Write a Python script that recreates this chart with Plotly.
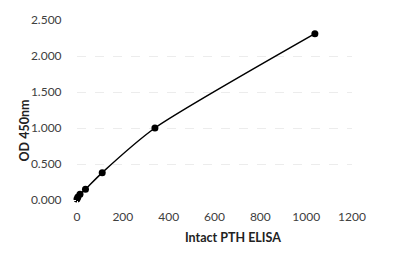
import plotly.graph_objects as go

conc = [0, 4, 13, 37, 110, 340, 1038]
od = [0.015, 0.04, 0.08, 0.15, 0.38, 1.0, 2.31]

x_ticks = [0, 200, 400, 600, 800, 1000, 1200]
y_ticks = [0, 0.5, 1.0, 1.5, 2.0, 2.5]

fig = go.Figure()
fig.add_trace(go.Scatter(
    x=conc, y=od, mode="lines+markers",
    line=dict(color="black", width=1.5, shape="spline", smoothing=0.6),
    marker=dict(color="black", size=7),
    cliponaxis=False, showlegend=False,
))

fig.update_layout(
    width=413, height=260,
    margin=dict(l=77, r=61, t=20, b=60),
    paper_bgcolor="white", plot_bgcolor="white",
    font=dict(family="Lato", size=12, color="#404040"),
    xaxis=dict(range=[0, 1200], tickvals=x_ticks, showgrid=False, zeroline=False,
               showline=False, ticks="outside", ticklen=6, tickcolor="white"),
    yaxis=dict(range=[0, 2.5], tickvals=y_ticks, tickformat=".3f", zeroline=False,
               showline=False, showgrid=True, gridcolor="#ececec", griddash="dash",
               gridwidth=1, ticks="outside", ticklen=12, tickcolor="white"),
    annotations=[
        dict(text="<b>Intact PTH ELISA</b>", showarrow=False,
             font=dict(size=12.5, color="#222")),
        dict(text="<b>OD 450nm</b>", textangle=-90, showarrow=False,
             font=dict(size=12.5, color="#222")),
    ],
)
# convert pixel annotation positions to paper coords
pw, ph = 413 - 77 - 61, 260 - 20 - 60
for a, (px, py) in zip(fig.layout.annotations, [(233, 247), (14, 131)]):
    a.update(x=(px - 77) / pw, y=(200 - py) / ph, xref="paper", yref="paper")
fig.write_html("out.html")
